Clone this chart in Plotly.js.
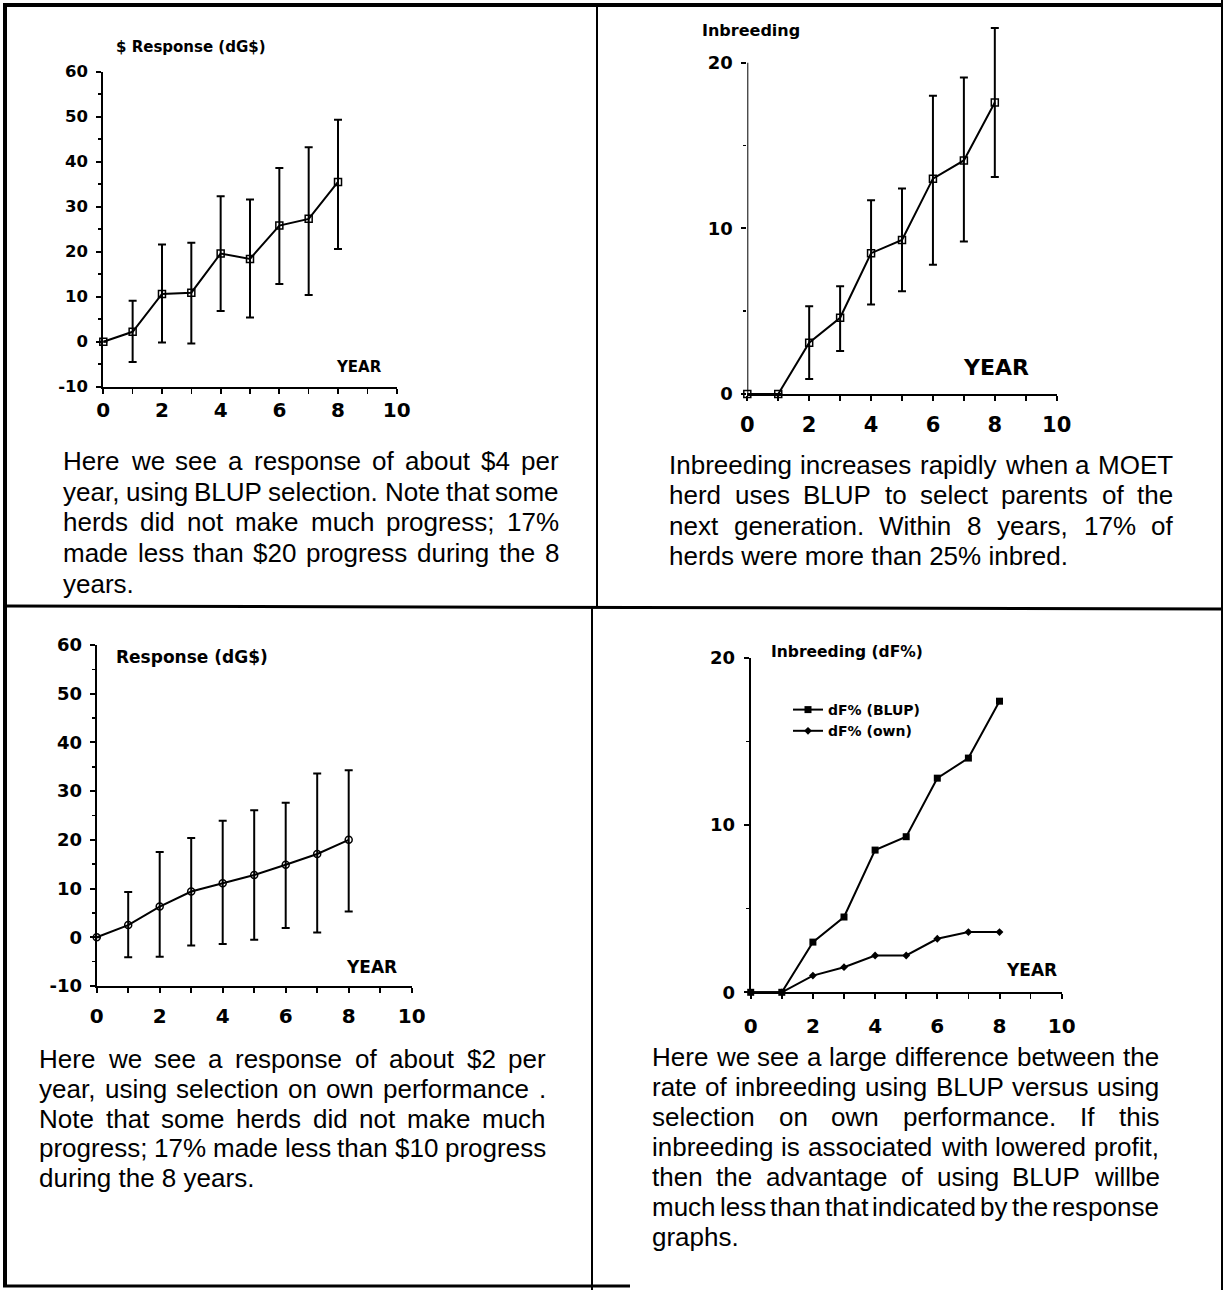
<!DOCTYPE html>
<html><head><meta charset="utf-8">
<script src="https://cdn.plot.ly/plotly-3.0.1.min.js"></script>
<style>html,body{margin:0;padding:0;background:#fff;overflow:hidden}#chart{width:1226px;height:1290px}</style>
</head><body><div id="chart"></div>
<script>
// ---------- data ----------
const years = [0, 1, 2, 3, 4, 5, 6, 7, 8];

// top-left: BLUP selection, response in $ (mean, upper and lower ends of bars)
const blupResponse     = [0, 2.2, 10.6, 10.9, 19.6, 18.4, 25.8, 27.3, 35.5];
const blupResponseHigh = [null, 9.1, 21.6, 22.0, 32.3, 31.6, 38.6, 43.2, 49.3];
const blupResponseLow  = [null, -4.5, -0.2, -0.4, 6.8, 5.4, 12.8, 10.4, 20.6];

// top-right: BLUP selection, inbreeding
const blupInbreeding     = [0, 0, 3.1, 4.6, 8.5, 9.3, 13.0, 14.1, 17.6];
const blupInbreedingHigh = [null, null, 5.3, 6.5, 11.7, 12.4, 18.0, 19.1, 22.1];
const blupInbreedingLow  = [null, null, 0.9, 2.6, 5.4, 6.2, 7.8, 9.2, 13.1];

// bottom-left: selection on own performance, response in $
const ownResponse     = [0, 2.5, 6.3, 9.4, 11.1, 12.8, 14.9, 17.1, 20.0];
const ownResponseHigh = [null, 9.3, 17.5, 20.4, 23.9, 26.1, 27.6, 33.6, 34.3];
const ownResponseLow  = [null, -4.1, -4.0, -1.7, -1.4, -0.5, 1.9, 1.0, 5.3];

// bottom-right: inbreeding, BLUP versus own performance
const dfBlup = [0, 0, 3.0, 4.5, 8.5, 9.3, 12.8, 14.0, 17.4];
const dfOwn  = [0, 0, 1.0, 1.5, 2.2, 2.2, 3.2, 3.6, 3.6];
const seriesNames = ['dF% (BLUP)', 'dF% (own)'];

// tick labels
const yearTicks = [0, 2, 4, 6, 8, 10];
const yearTickText = ['0', '2', '4', '6', '8', '10'];
const responseTicks = [-10, 0, 10, 20, 30, 40, 50, 60];
const responseTickText = ['-10', '0', '10', '20', '30', '40', '50', '60'];
const inbreedTicks = [0, 10, 20];
const inbreedTickText = ['0', '10', '20'];

// texts
const titles = ['$ Response (dG$)', 'Inbreeding', 'Response (dG$)', 'Inbreeding (dF%)'];
const axisWord = 'YEAR';
const text1 = [
  'Here we see a response of about $4 per',
  'year, using BLUP selection. Note that some',
  'herds did not  make much progress; 17%',
  'made less than $20 progress during the 8',
  'years.'
];
const text2 = [
  'Inbreeding increases rapidly when a MOET',
  'herd uses BLUP  to  select parents of the',
  'next generation.  Within 8 years, 17% of',
  'herds were more than 25% inbred.'
];
const text3 = [
  'Here we see a response of about $2 per',
  'year, using  selection on own performance .',
  'Note that some herds did not  make much',
  'progress; 17% made less than $10 progress',
  'during the 8 years.'
];
const text4 = [
  'Here we see a large difference between the',
  'rate of inbreeding using BLUP versus using',
  'selection  on  own  performance.   If  this',
  'inbreeding is associated with lowered profit,',
  'then the advantage of using BLUP willbe',
  'much less than that indicated by the response',
  'graphs.'
];

// ---------- helpers ----------
const W = 1226, H = 1290;
const fx = p => p / W;
const fy = p => 1 - p / H;
const plus = (hi, m) => hi.map((h, i) => h == null ? null : h - m[i]);
const minus = (lo, m) => lo.map((l, i) => l == null ? null : m[i] - l);

const LBL = 'DejaVu Sans, Arial, sans-serif';
const BODY = 'Liberation Sans, Arial, sans-serif';

function xAxis(d0, d1, anchor, fs, standoff) {
  return {
    domain: [fx(d0), fx(d1)], range: [0, 10], anchor: anchor,
    showline: true, linecolor: '#000', linewidth: 2, mirror: false,
    ticks: 'outside', ticklen: 5, tickwidth: 2, tickcolor: '#000',
    tickmode: 'array', tickvals: yearTicks, ticktext: yearTickText,
    minor: {tickmode: 'linear', tick0: 0, dtick: 1, ticks: 'outside', ticklen: 5, tickwidth: 1.5, tickcolor: '#000', showgrid: false},
    ticklabelstandoff: standoff,
    tickfont: {family: LBL, size: fs, color: '#000', weight: 'bold'},
    showgrid: false, zeroline: false, fixedrange: true
  };
}
// top/bottom are pixel rows of the ends of the drawn range
function yAxis(top, bottom, anchor, range, tv, tt, minorStep, fs, standoff, showline) {
  return {
    domain: [fy(bottom), fy(top)], range: range, anchor: anchor,
    showline: showline, linecolor: '#000', linewidth: 2,
    ticks: 'outside', ticklen: 5, tickwidth: 2, tickcolor: '#000',
    tickmode: 'array', tickvals: tv, ticktext: tt,
    minor: {tickmode: 'linear', tick0: 0, dtick: minorStep, ticks: 'outside', ticklen: 3, tickwidth: 1.5, tickcolor: '#000', showgrid: false},
    ticklabelstandoff: standoff,
    tickfont: {family: LBL, size: fs, color: '#000', weight: 'bold'},
    showgrid: false, zeroline: false, fixedrange: true
  };
}
function errBar(hi, lo, m) {
  return {type: 'data', symmetric: false, array: plus(hi, m), arrayminus: minus(lo, m),
          color: '#000', thickness: 2, width: 4, visible: true};
}
const lineStyle = {color: '#000', width: 2};
const openMarker = {symbol: 'square-open', size: 7, color: '#000', line: {color: '#000', width: 1.5}};

const traces = [
  {x: years, y: blupResponse, xaxis: 'x', yaxis: 'y', mode: 'lines+markers', line: lineStyle,
   marker: openMarker, error_y: errBar(blupResponseHigh, blupResponseLow, blupResponse), showlegend: false, cliponaxis: false},
  {x: years, y: blupInbreeding, xaxis: 'x2', yaxis: 'y2', mode: 'lines+markers', line: lineStyle,
   marker: openMarker, error_y: errBar(blupInbreedingHigh, blupInbreedingLow, blupInbreeding), showlegend: false, cliponaxis: false},
  {x: years, y: ownResponse, xaxis: 'x3', yaxis: 'y3', mode: 'lines+markers', line: lineStyle,
   marker: {symbol: 'circle-open', size: 7, color: '#000', line: {color: '#000', width: 1.5}},
   error_y: errBar(ownResponseHigh, ownResponseLow, ownResponse), showlegend: false, cliponaxis: false},
  {x: years, y: dfBlup, xaxis: 'x4', yaxis: 'y4', mode: 'lines+markers', name: seriesNames[0], line: lineStyle,
   marker: {symbol: 'square', size: 7, color: '#000'}, showlegend: true, cliponaxis: false},
  {x: years, y: dfOwn, xaxis: 'x4', yaxis: 'y4', mode: 'lines+markers', name: seriesNames[1], line: lineStyle,
   marker: {symbol: 'diamond', size: 6, color: '#000'}, showlegend: true, cliponaxis: false}
];

// ---------- paragraph text, justified like the printed page ----------
const ctx = document.createElement('canvas').getContext('2d');
const annotations = [];
function addText(s, x, y, size, family, weight, anchor) {
  annotations.push({text: s, xref: 'paper', yref: 'paper', x: fx(x), y: fy(y),
    xanchor: anchor || 'left', yanchor: 'middle', showarrow: false, borderpad: 0,
    font: {family: family, size: size, color: '#000', weight: weight || 'normal'}});
}
function paragraph(lines, left, right, top, gap, size) {
  ctx.font = size + 'px "Liberation Sans"';
  lines.forEach((ln, i) => {
    const y = top + i * gap;
    if (i === lines.length - 1) { addText(ln, left, y, size, BODY); return; }
    const words = ln.split(/\s+/).filter(w => w.length);
    const widths = words.map(w => ctx.measureText(w).width);
    const total = widths.reduce((a, b) => a + b, 0);
    const sp = (right - left - total) / (words.length - 1);
    let cx = left;
    words.forEach((w, k) => { addText(w, cx, y, size, BODY); cx += widths[k] + sp; });
  });
}
const FS = 26;
paragraph(text1, 62, 558, 461, 30.7, FS);
paragraph(text2, 668, 1172, 465, 30.3, FS);
paragraph(text3, 38, 545, 1059, 29.8, FS);
paragraph(text4, 651, 1158, 1057, 30, FS);

// chart labels
addText(titles[0], 115, 47, 15, LBL, 'bold');
addText(titles[1], 701, 30, 16, LBL, 'bold');
addText(titles[2], 115, 657, 17, LBL, 'bold');
addText(titles[3], 770, 652, 15.5, LBL, 'bold');
addText(axisWord, 335, 367, 15, LBL, 'bold');
addText(axisWord, 962, 367, 22, LBL, 'bold');
addText(axisWord, 345, 967, 17, LBL, 'bold');
addText(axisWord, 1005, 970, 17, LBL, 'bold');

// ---------- page frame and the inbreeding axis line (stops at 20) ----------
function ln(x0, y0, x1, y1, w) {
  return {type: 'line', xref: 'paper', yref: 'paper', x0: fx(x0), y0: fy(y0), x1: fx(x1), y1: fy(y1),
          line: {color: '#000', width: w}};
}
const shapes = [
  ln(3, 5, 1223, 5, 4),
  ln(5, 3, 5, 1287, 4),
  ln(1222, 0, 1222, 1290, 2),
  ln(597, 5, 597, 607, 2),
  ln(592, 607, 592, 1290, 2),
  ln(3, 606, 1222, 609, 3),
  ln(3, 1286, 630, 1286, 3),
  {type: 'line', xref: 'x2', yref: 'y2', x0: 0, x1: 0, y0: 0, y1: 20, line: {color: '#000', width: 2}}
];

// top-right plot area extended above 20 so the tallest bar is not cut; 16.565 px per unit
const pxPerUnit2 = (394 - 62.7) / 20;
const top2 = 394 - 22.6 * pxPerUnit2;

const layout = {
  width: W, height: H, margin: {l: 0, r: 0, t: 0, b: 0, pad: 0},
  paper_bgcolor: '#fff', plot_bgcolor: 'rgba(0,0,0,0)',
  showlegend: true,
  legend: {x: fx(788), y: fy(694), xanchor: 'left', yanchor: 'top', bgcolor: 'rgba(0,0,0,0)',
           font: {family: LBL, size: 14, color: '#000', weight: 'bold'}, itemwidth: 30, tracegroupgap: 0},
  xaxis: xAxis(103.3, 396.7, 'y', 20, -1),
  yaxis: yAxis(71.7, 386.7, 'x', [-10, 60], responseTicks, responseTickText, 5, 16.5, 5, true),
  xaxis2: xAxis(747.3, 1056.7, 'y2', 21, 6),
  yaxis2: yAxis(top2, 394, 'x2', [0, 22.6], inbreedTicks, inbreedTickText, 5, 18, 5, false),
  xaxis3: xAxis(96.7, 411.7, 'y3', 20, 6),
  yaxis3: yAxis(645, 986, 'x3', [-10, 60], responseTicks, responseTickText, 5, 18, 4, true),
  xaxis4: xAxis(750.7, 1061.7, 'y4', 20, 10),
  yaxis4: yAxis(657.7, 992.3, 'x4', [0, 20], inbreedTicks, inbreedTickText, 5, 18, 5, true),
  annotations: annotations,
  shapes: shapes
};

Plotly.newPlot('chart', traces, layout, {staticPlot: true, displayModeBar: false});
</script>
</body></html>
